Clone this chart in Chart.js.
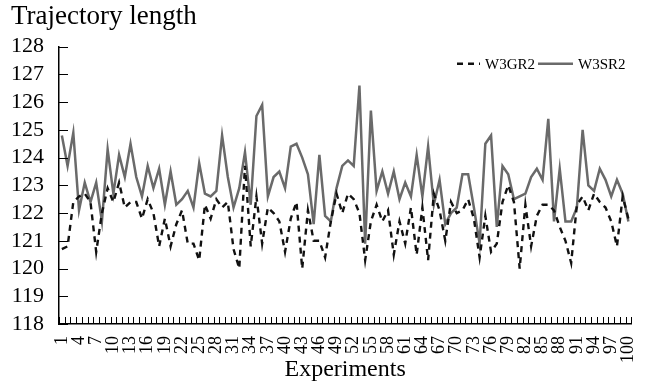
<!DOCTYPE html>
<html>
<head>
<meta charset="utf-8">
<script src="https://cdn.jsdelivr.net/npm/chart.js@4.4.1/dist/chart.umd.min.js"></script>
<style>
  html, body { margin: 0; padding: 0; background: #ffffff; }
  #wrap { width: 654px; height: 386px; }
</style>
</head>
<body>
<div id="wrap"><canvas id="trajectoryChart"></canvas></div>
<script>
const SERIF = "'Liberation Serif', 'Times New Roman', serif";

// Experiment numbers and the labelled ones on the x axis
const experiments = [
    1, 2, 3, 4, 5, 6, 7, 8, 9, 10, 11, 12, 13, 14, 15, 16, 17, 18, 19, 20,
    21, 22, 23, 24, 25, 26, 27, 28, 29, 30, 31, 32, 33, 34, 35, 36, 37, 38, 39, 40,
    41, 42, 43, 44, 45, 46, 47, 48, 49, 50, 51, 52, 53, 54, 55, 56, 57, 58, 59, 60,
    61, 62, 63, 64, 65, 66, 67, 68, 69, 70, 71, 72, 73, 74, 75, 76, 77, 78, 79, 80,
    81, 82, 83, 84, 85, 86, 87, 88, 89, 90, 91, 92, 93, 94, 95, 96, 97, 98, 99, 100
];
const tickLabels = [1, 4, 7, 10, 13, 16, 19, 22, 25, 28, 31, 34, 37, 40, 43, 46, 49,
    52, 55, 58, 61, 64, 67, 70, 73, 76, 79, 82, 85, 88, 91, 94, 97, 100];

// Trajectory length per experiment
const w3gr2 = [
    120.7, 120.8, 122.4, 122.6, 122.7, 122.4, 120.6, 122.0, 122.9, 122.4,
    123.1, 122.2, 122.4, 122.4, 121.8, 122.5, 122.0, 120.8, 121.8, 120.8,
    121.6, 122.1, 120.9, 120.9, 120.3, 122.3, 121.8, 122.5, 122.2, 122.4,
    120.7, 120.0, 123.7, 120.8, 122.6, 120.9, 122.2, 122.0, 121.7, 120.6,
    121.8, 122.4, 120.0, 122.1, 121.0, 121.0, 120.4, 121.7, 122.7, 122.0,
    122.7, 122.5, 122.0, 120.3, 121.7, 122.3, 121.7, 122.1, 120.5, 121.7,
    120.9, 122.2, 120.5, 122.2, 120.3, 122.7, 122.1, 121.0, 122.4, 122.0,
    122.1, 122.5, 121.8, 120.4, 121.9, 120.6, 120.9, 122.4, 123.0, 122.4,
    120.0, 122.3, 120.8, 121.9, 122.3, 122.3, 122.1, 121.5, 121.0, 120.2,
    122.3, 122.6, 122.1, 122.7, 122.4, 122.2, 121.7, 120.8, 122.6, 121.8
];
const w3sr2 = [
    124.8, 123.7, 124.9, 122.1, 123.1, 122.4, 123.1, 121.7, 124.3, 122.7,
    124.1, 123.3, 124.5, 123.3, 122.6, 123.7, 122.9, 123.6, 122.3, 123.5,
    122.3, 122.5, 122.8, 122.2, 123.8, 122.7, 122.6, 122.8, 124.8, 123.3,
    122.2, 122.9, 124.2, 122.3, 125.5, 125.9, 122.6, 123.3, 123.5, 122.9,
    124.4, 124.5, 124.0, 123.4, 121.6, 124.1, 121.9, 121.7, 122.9, 123.7,
    123.9, 123.7, 126.6, 120.9, 125.7, 122.8, 123.5, 122.7, 123.5, 122.5,
    123.1, 122.6, 124.1, 122.6, 124.4, 122.3, 123.2, 121.6, 122.0, 122.2,
    123.4, 123.4, 122.2, 120.9, 124.5, 124.8, 121.5, 123.7, 123.4, 122.5,
    122.6, 122.7, 123.3, 123.6, 123.2, 125.4, 121.7, 123.6, 121.7, 121.7,
    122.2, 125.0, 123.0, 122.8, 123.6, 123.2, 122.6, 123.2, 122.7, 121.7
];

const toPoints = (values) => values.map((v, i) => ({ x: experiments[i], y: v }));

// Short tick marks drawn inward from both axes
const innerTicks = {
    id: 'innerTicks',
    afterDraw(chart) {
        const { ctx, chartArea, scales } = chart;
        ctx.save();
        ctx.strokeStyle = '#000';
        ctx.lineWidth = 1;
        ctx.beginPath();
        [0, ...experiments].forEach(n => {
            const px = Math.round(scales.x.getPixelForValue(n + 0.5)) + 0.5;
            ctx.moveTo(px, chartArea.bottom);
            ctx.lineTo(px, chartArea.bottom - 7);
        });
        scales.y.ticks.forEach(t => {
            const py = Math.round(scales.y.getPixelForValue(t.value)) + 0.5;
            ctx.moveTo(chartArea.left, py);
            ctx.lineTo(chartArea.left + 9, py);
        });
        ctx.stroke();
        ctx.restore();
    }
};

// Line-sample legend in the upper right of the plot
const lineLegend = {
    id: 'lineLegend',
    afterDraw(chart) {
        const { ctx, chartArea } = chart;
        const y = chartArea.top + 17;
        let x = 457;
        const sampleWidths = [23, 35];
        ctx.save();
        ctx.font = '15px ' + SERIF;
        ctx.textBaseline = 'middle';
        ctx.fillStyle = '#000';
        chart.data.datasets.forEach((ds, i) => {
            ctx.strokeStyle = ds.borderColor;
            ctx.lineWidth = ds.borderWidth;
            ctx.setLineDash(ds.borderDash || []);
            ctx.beginPath();
            ctx.moveTo(x, y);
            ctx.lineTo(x + sampleWidths[i], y);
            ctx.stroke();
            x += sampleWidths[i] + 5;
            ctx.fillText(ds.label, x, y + 1);
            x += ctx.measureText(ds.label).width + 3;
        });
        ctx.restore();
    }
};

new Chart(document.getElementById('trajectoryChart'), {
    type: 'line',
    data: {
        datasets: [
            {
                label: 'W3GR2',
                data: toPoints(w3gr2),
                borderColor: '#111111',
                borderWidth: 2.4,
                borderDash: [6, 5],
                pointRadius: 0,
                tension: 0
            },
            {
                label: 'W3SR2',
                data: toPoints(w3sr2),
                borderColor: '#6a6a6a',
                borderWidth: 2.5,
                pointRadius: 0,
                tension: 0
            }
        ]
    },
    options: {
        responsive: true,
        maintainAspectRatio: false,
        animation: false,
        layout: { padding: { left: 11, right: 0, top: 0, bottom: 2 } },
        plugins: {
            legend: { display: false },
            tooltip: { enabled: false },
            title: {
                display: true,
                text: 'Trajectory length',
                align: 'start',
                color: '#000',
                font: { family: SERIF, size: 27, weight: 'normal', lineHeight: 1.1 },
                padding: { top: 2, bottom: 15 }
            }
        },
        scales: {
            x: {
                type: 'linear',
                min: 0.5,
                max: 100.5,
                afterBuildTicks: (scale) => {
                    scale.ticks = tickLabels.map(v => ({ value: v }));
                },
                afterFit: (scale) => { scale.height = 60; },
                ticks: {
                    autoSkip: false,
                    minRotation: 90,
                    maxRotation: 90,
                    padding: 4,
                    color: '#000',
                    font: { family: SERIF, size: 18 }
                },
                grid: { display: false },
                border: { display: true, color: '#000', width: 1.5 },
                title: {
                    display: true,
                    text: 'Experiments',
                    color: '#000',
                    font: { family: SERIF, size: 24 },
                    padding: { top: 0, bottom: 0 }
                }
            },
            y: {
                min: 118,
                max: 128,
                afterFit: (scale) => { scale.width = 48; },
                ticks: {
                    stepSize: 1,
                    autoSkip: false,
                    padding: 7,
                    color: '#000',
                    font: { family: SERIF, size: 22 }
                },
                grid: { display: false },
                border: { display: true, color: '#000', width: 1.5 }
            }
        }
    },
    plugins: [innerTicks, lineLegend]
});
</script>
</body>
</html>
